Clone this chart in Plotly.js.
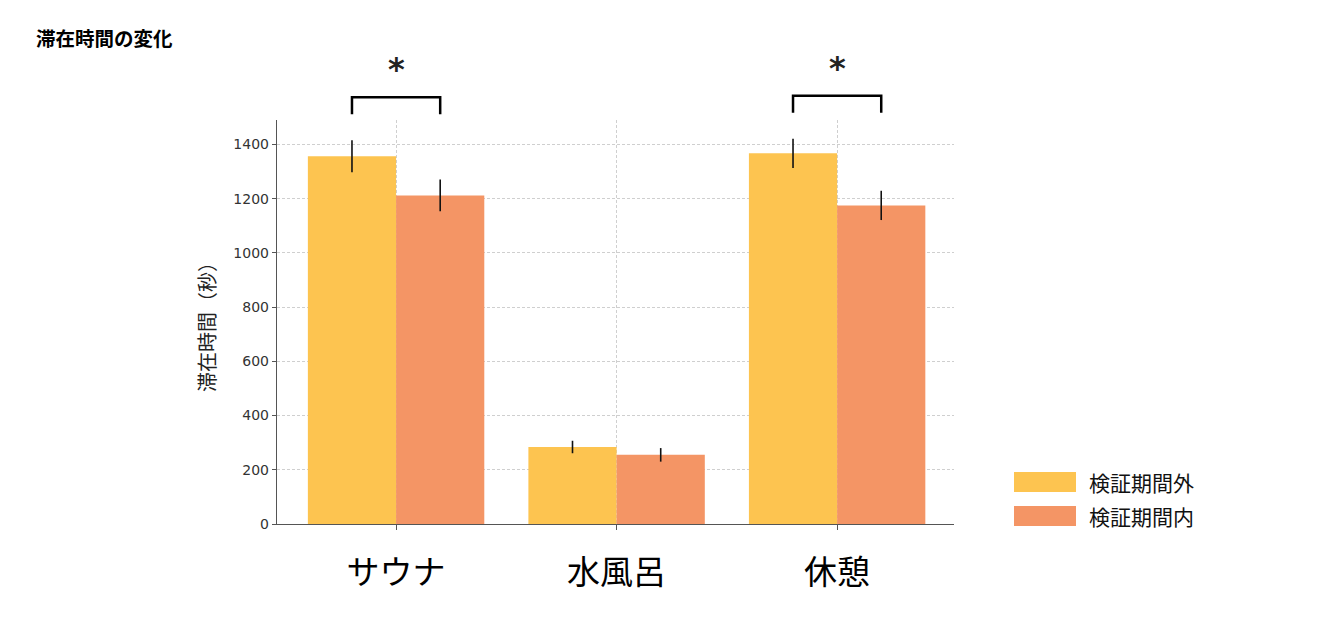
<!DOCTYPE html>
<html>
<head>
<meta charset="utf-8">
<script src="https://cdn.plot.ly/plotly-3.0.1.min.js"></script>
<style>
  html, body { margin: 0; padding: 0; background: #ffffff; }
  #chart { width: 1320px; height: 630px; }
</style>
</head>
<body>
<div id="chart"></div>
<script>
const categories = ['サウナ', '水風呂', '休憩']
const seriesNames = ['検証期間外', '検証期間内']
const outsideMeans = [1356, 284, 1367]
const outsideErrors = [59, 23, 54]
const insideMeans = [1212, 255, 1175]
const insideErrors = [59, 25, 54]
// categories with a significant difference (index into categories)
const significantPairs = [0, 2]

const colors = ['#FDC450', '#F49565']
const jpFont = '"Noto Sans CJK JP", "Noto Sans", sans-serif'
const numFont = '"DejaVu Sans", sans-serif'

const traces = [
  {
    x: categories,
    y: outsideMeans,
    name: seriesNames[0],
    type: 'bar',
    marker: { color: colors[0] },
    error_y: { type: 'data', array: outsideErrors, visible: true, color: '#111111', thickness: 1.6, width: 0 }
  },
  {
    x: categories,
    y: insideMeans,
    name: seriesNames[1],
    type: 'bar',
    marker: { color: colors[1] },
    error_y: { type: 'data', array: insideErrors, visible: true, color: '#111111', thickness: 1.6, width: 0 }
  }
]

// plot area in pixels
const plotTop = 120
const plotBottom = 524
const plotH = plotBottom - plotTop
const yMax = 1490
const pxToPaper = px => (plotBottom - px) / plotH
const valueToPx = v => plotBottom - v * plotH / yMax

const shapes = []
const annotations = []

// significance brackets above the pairs
significantPairs.forEach(i => {
  const top = Math.max(outsideMeans[i] + outsideErrors[i], insideMeans[i] + insideErrors[i])
  const legPx = valueToPx(top) - 26
  const barPx = legPx - 17
  const yLow = pxToPaper(legPx)
  const yHigh = pxToPaper(barPx)
  shapes.push({
    type: 'path',
    xref: 'x', yref: 'paper',
    path: `M ${i - 0.2} ${yLow} L ${i - 0.2} ${yHigh} L ${i + 0.2} ${yHigh} L ${i + 0.2} ${yLow}`,
    line: { color: '#000000', width: 2.5 }
  })
  annotations.push({
    xref: 'x', yref: 'paper',
    x: i, y: pxToPaper(barPx - 28),
    text: '<b>*</b>',
    showarrow: false,
    yanchor: 'middle',
    font: { family: numFont, size: 32, color: '#222222' }
  })
})

// custom legend with wide swatches
seriesNames.forEach((name, k) => {
  const cy = 482 + k * 34
  shapes.push({
    type: 'rect', xref: 'paper', yref: 'paper',
    x0: (1014 - 277) / 677, x1: (1076 - 277) / 677,
    y0: pxToPaper(cy + 10), y1: pxToPaper(cy - 10),
    fillcolor: colors[k], line: { width: 0 }
  })
  annotations.push({
    xref: 'paper', yref: 'paper',
    x: (1087 - 277) / 677, y: pxToPaper(cy),
    xanchor: 'left', yanchor: 'middle',
    text: name, showarrow: false,
    font: { family: jpFont, size: 21, color: '#111111' }
  })
})

const layout = {
  width: 1320,
  height: 630,
  title: {
    text: '<b>滞在時間の変化</b>',
    xref: 'container', yref: 'container',
    x: 36 / 1320, xanchor: 'left',
    y: 1 - 39 / 630, yanchor: 'middle',
    font: { family: jpFont, size: 19.5, color: '#000000' }
  },
  barmode: 'group',
  bargap: 0.2,
  bargroupgap: 0,
  showlegend: false,
  xaxis: {
    type: 'category',
    range: [-0.54, 2.53],
    showline: true,
    linecolor: '#555555',
    linewidth: 1.4,
    ticks: 'outside',
    ticklen: 5,
    tickcolor: '#555555',
    ticklabelstandoff: 14,
    tickfont: { family: jpFont, size: 33, color: '#000000' },
    showgrid: true,
    gridcolor: '#cfcfcf',
    griddash: '3px,2px',
    gridwidth: 0.8,
    zeroline: false
  },
  yaxis: {
    range: [0, yMax],
    tickvals: [0, 200, 400, 600, 800, 1000, 1200, 1400],
    showline: true,
    linecolor: '#555555',
    linewidth: 1.4,
    ticks: 'outside',
    ticklen: 4,
    tickcolor: '#555555',
    tickfont: { family: numFont, size: 14, color: '#333333' },
    showgrid: true,
    gridcolor: '#cfcfcf',
    griddash: '3px,2px',
    gridwidth: 0.8,
    zeroline: false,
    title: {
      text: '滞在時間（秒）',
      font: { family: jpFont, size: 20, color: '#222222' },
      standoff: 12
    }
  },
  shapes: shapes,
  annotations: annotations,
  plot_bgcolor: '#ffffff',
  paper_bgcolor: '#ffffff',
  margin: { l: 277, r: 366, t: 120, b: 106 }
}

Plotly.newPlot('chart', traces, layout, { displayModeBar: false, displaylogo: false })
</script>
</body>
</html>
